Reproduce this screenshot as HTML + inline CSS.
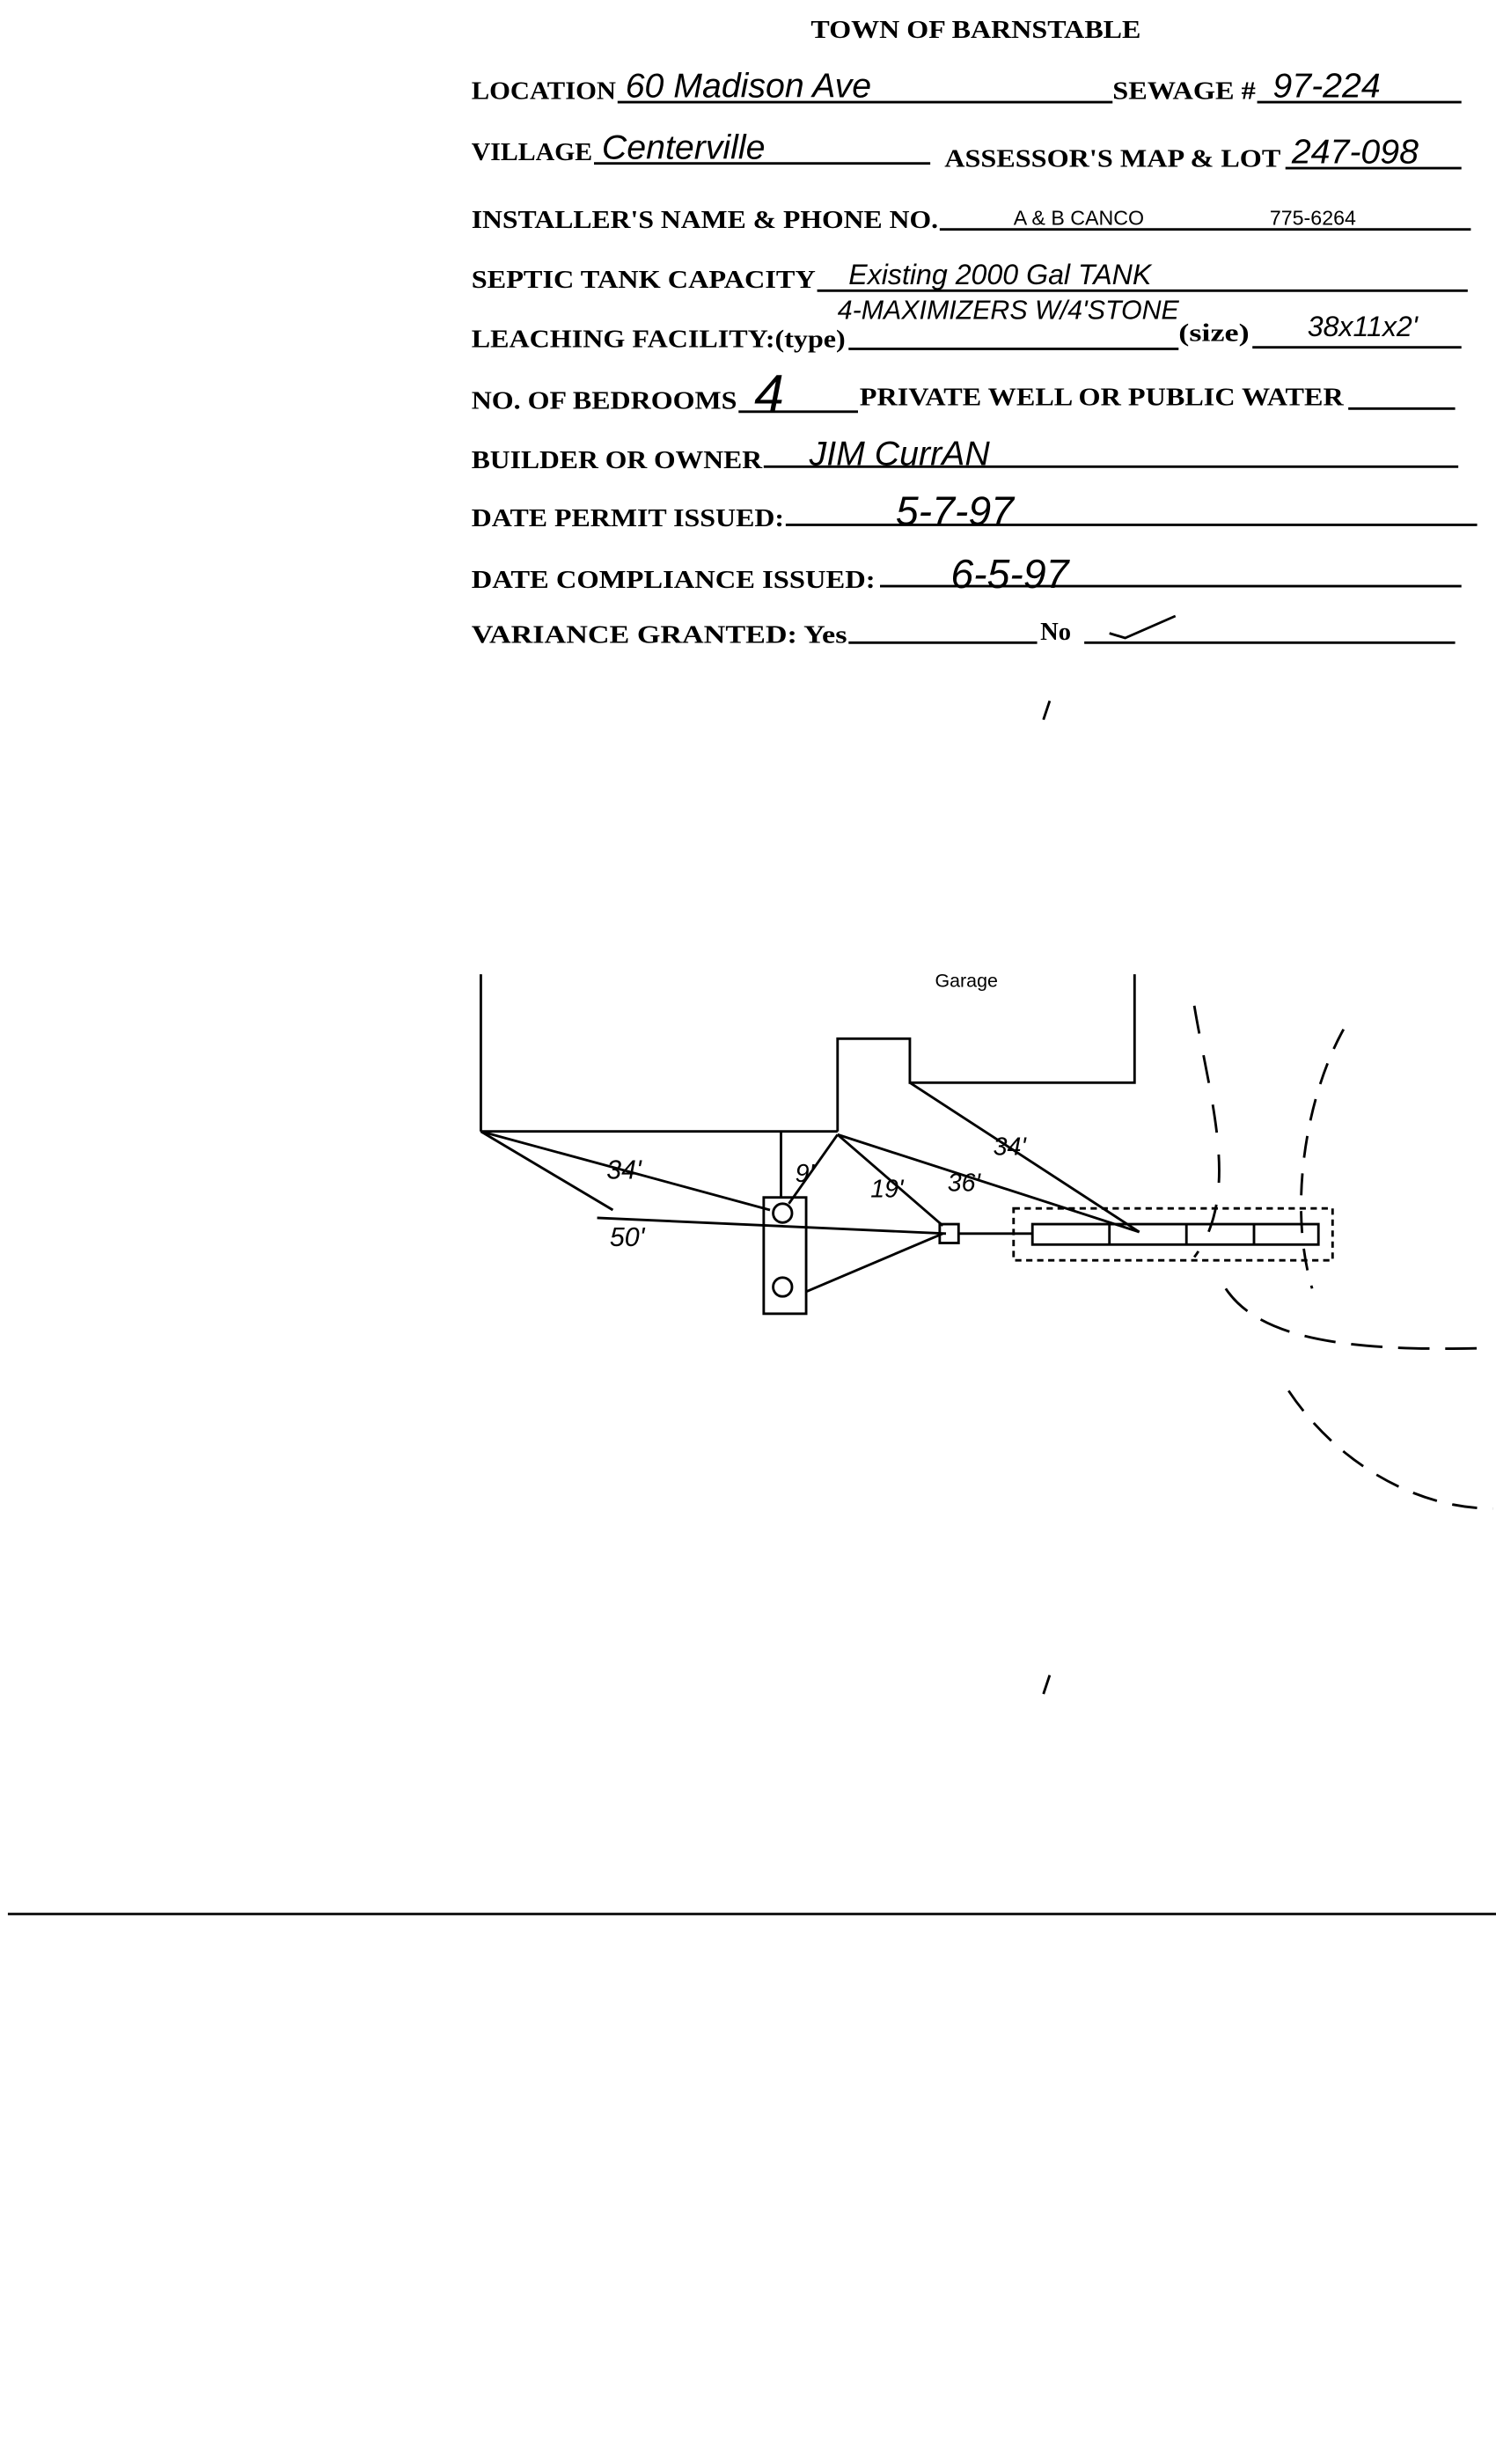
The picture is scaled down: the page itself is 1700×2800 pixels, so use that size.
<!DOCTYPE html>
<html><head><meta charset="utf-8"><style>
html,body{margin:0;padding:0;background:#fff;}
svg{display:block;}
.f{font-family:"Liberation Serif",serif;font-weight:bold;font-size:16px;fill:#000;}
.h{font-family:"Liberation Sans",sans-serif;font-size:22px;fill:#000;font-style:italic;}
.s{font-family:"Liberation Sans",sans-serif;font-size:13px;fill:#000;}
line,path,rect,circle,polyline{stroke:#000;fill:none;stroke-width:1.6;}
</style></head><body>
<svg width="1700" height="2800" viewBox="0 0 952 1568" xmlns="http://www.w3.org/2000/svg">
<text class="f" x="516" y="24" textLength="210" lengthAdjust="spacingAndGlyphs">TOWN OF BARNSTABLE</text>
<text class="f" x="300" y="63" textLength="92" lengthAdjust="spacingAndGlyphs">LOCATION</text><line x1="393" y1="65" x2="708" y2="65"/><text class="h" x="398" y="62">60 Madison  Ave</text>
<text class="f" x="708" y="63" textLength="91" lengthAdjust="spacingAndGlyphs">SEWAGE #</text><line x1="800" y1="65" x2="930" y2="65"/><text class="h" x="810" y="62">97-224</text>
<text class="f" x="300" y="102" textLength="77" lengthAdjust="spacingAndGlyphs">VILLAGE</text><line x1="378" y1="104" x2="592" y2="104"/><text class="h" x="383" y="101">Centerville</text>
<text class="f" x="601" y="106" textLength="214" lengthAdjust="spacingAndGlyphs">ASSESSOR'S  MAP &amp; LOT</text><line x1="818" y1="107" x2="930" y2="107"/><text class="h" x="822" y="104">247-098</text>
<text class="f" x="300" y="145" textLength="297" lengthAdjust="spacingAndGlyphs">INSTALLER'S NAME &amp; PHONE NO.</text><line x1="598" y1="146" x2="936" y2="146"/>
<text class="s" x="645" y="143">A &amp; B CANCO</text><text class="s" x="808" y="143">775-6264</text>
<text class="f" x="300" y="183" textLength="219" lengthAdjust="spacingAndGlyphs">SEPTIC TANK CAPACITY</text><line x1="520" y1="185" x2="934" y2="185"/><text class="h" x="540" y="181" style="font-size:18px">Existing 2000 Gal TANK</text>
<text class="h" x="533" y="203" style="font-size:17px">4-MAXIMIZERS W/4'STONE</text>
<text class="f" x="300" y="221" textLength="238" lengthAdjust="spacingAndGlyphs">LEACHING FACILITY:(type)</text><line x1="540" y1="222" x2="750" y2="222"/>
<text class="f" x="750" y="217" textLength="45" lengthAdjust="spacingAndGlyphs">(size)</text><line x1="797" y1="221" x2="930" y2="221"/><text class="h" x="832" y="214" style="font-size:18px">38x11x2'</text>
<text class="f" x="300" y="260" textLength="169" lengthAdjust="spacingAndGlyphs">NO. OF BEDROOMS</text><line x1="470" y1="262" x2="546" y2="262"/><text class="h" x="480" y="262" style="font-size:34px">4</text>
<text class="f" x="547" y="258" textLength="308" lengthAdjust="spacingAndGlyphs">PRIVATE WELL OR PUBLIC WATER</text><line x1="858" y1="260" x2="926" y2="260"/>
<text class="f" x="300" y="298" textLength="185" lengthAdjust="spacingAndGlyphs">BUILDER OR OWNER</text><line x1="486" y1="297" x2="928" y2="297"/><text class="h" x="515" y="296">JIM  CurrAN</text>
<text class="f" x="300" y="335" textLength="199" lengthAdjust="spacingAndGlyphs">DATE PERMIT ISSUED:</text><line x1="500" y1="334" x2="940" y2="334"/><text class="h" x="570" y="334" style="font-size:26px">5-7-97</text>
<text class="f" x="300" y="374" textLength="257" lengthAdjust="spacingAndGlyphs">DATE   COMPLIANCE ISSUED:</text><line x1="560" y1="373" x2="930" y2="373"/><text class="h" x="605" y="374" style="font-size:26px">6-5-97</text>
<text class="f" x="300" y="409" textLength="239" lengthAdjust="spacingAndGlyphs">VARIANCE GRANTED:  Yes</text><line x1="540" y1="409" x2="660" y2="409"/>
<text class="f" x="662" y="407">No</text><line x1="690" y1="409" x2="926" y2="409"/><path d="M706 403 L716 406 L748 392"/>
<line x1="668" y1="446" x2="664" y2="458"/>
<polyline points="306,620 306,720"/>
<polyline points="722,620 722,689 579,689 579,661 533,661 533,720"/>
<text class="s" x="595" y="628" style="font-size:12px">Garage</text>
<line x1="306" y1="720" x2="533" y2="720"/>
<line x1="306" y1="720" x2="490" y2="770"/>
<line x1="306" y1="720" x2="390" y2="770"/>
<line x1="380" y1="775" x2="602" y2="785"/>
<line x1="497" y1="720" x2="497" y2="762"/>
<line x1="533" y1="722" x2="502" y2="766"/>
<line x1="533" y1="722" x2="600" y2="780"/>
<line x1="533" y1="722" x2="725" y2="784"/>
<line x1="579" y1="689" x2="725" y2="784"/>
<rect x="486" y="762" width="27" height="74"/>
<circle cx="498" cy="772" r="6"/><circle cx="498" cy="819" r="6"/>
<line x1="513" y1="822" x2="600" y2="785"/>
<rect x="598" y="779" width="12" height="12"/>
<line x1="610" y1="785" x2="657" y2="785"/>
<rect x="645" y="769" width="203" height="33" stroke-dasharray="4 3"/>
<rect x="657" y="779" width="182" height="13"/>
<line x1="706" y1="779" x2="706" y2="792"/><line x1="755" y1="779" x2="755" y2="792"/><line x1="798" y1="779" x2="798" y2="792"/>
<text class="h" x="386" y="750" style="font-size:17px">34'</text>
<text class="h" x="388" y="793" style="font-size:17px">50'</text>
<text class="h" x="506" y="752" style="font-size:16px">9'</text>
<text class="h" x="554" y="762" style="font-size:16px">19'</text>
<text class="h" x="603" y="758" style="font-size:16px">36'</text>
<text class="h" x="632" y="735" style="font-size:16px">34'</text>
<path d="M855 655 C830 700 820 770 835 820" stroke-dasharray="14 10"/>
<path d="M760 640 C770 700 790 760 760 800" stroke-dasharray="18 14"/>
<path d="M820 885 C850 930 900 960 950 960" stroke-dasharray="16 10"/>
<path d="M780 820 C800 850 850 860 940 858" stroke-dasharray="20 10"/>
<line x1="668" y1="1066" x2="664" y2="1078"/>
<line x1="5" y1="1218" x2="952" y2="1218"/>
</svg>
</body></html>
